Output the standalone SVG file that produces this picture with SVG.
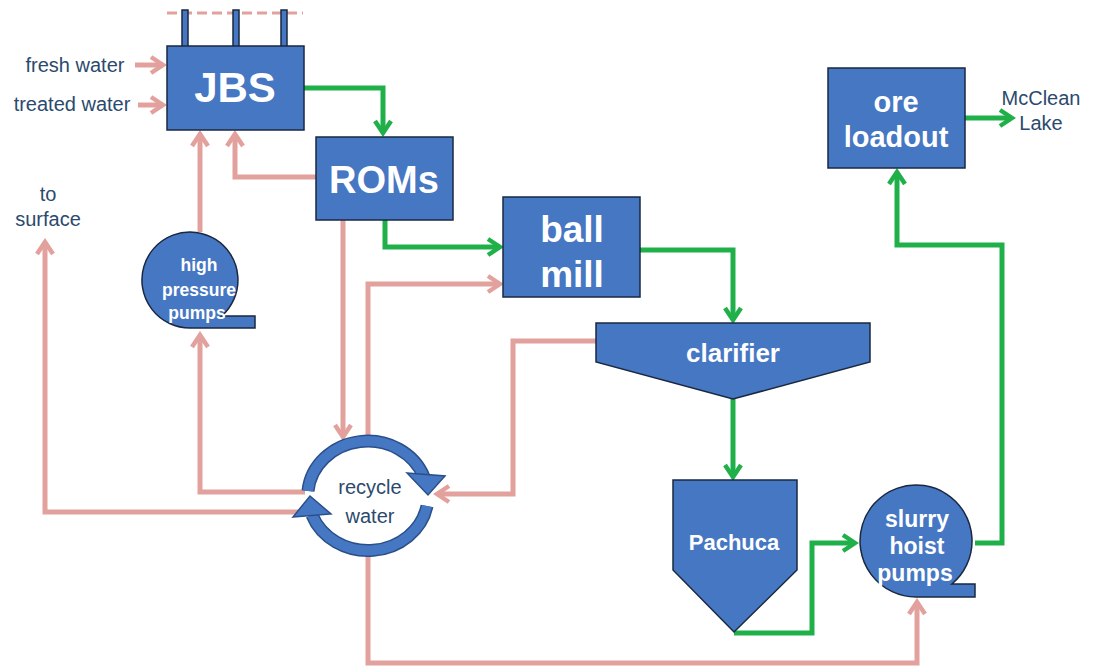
<svg xmlns="http://www.w3.org/2000/svg" width="1099" height="670" viewBox="0 0 1099 670">
<style>
.node{fill:#4677c3;stroke:#1a2840;stroke-width:1.5}
.nt{font-family:"Liberation Sans",Arial,sans-serif;font-weight:bold;fill:#ffffff;text-anchor:middle}
.lbl{font-family:"Liberation Sans",Arial,sans-serif;fill:#2b4a6e;text-anchor:middle;font-size:20px}
.pk{fill:none;stroke:#e2a19c;stroke-width:5;stroke-linejoin:miter;marker-end:url(#ap)}
.gr{fill:none;stroke:#20b04a;stroke-width:5;stroke-linejoin:miter;marker-end:url(#ag)}
</style>
<defs>
<marker id="ap" viewBox="0 0 20 20" markerWidth="20" markerHeight="20" refX="16" refY="10" orient="auto" markerUnits="userSpaceOnUse">
<path d="M4,2 L16,10 L4,18" fill="none" stroke="#e2a19c" stroke-width="4.5"/>
</marker>
<marker id="ag" viewBox="0 0 20 20" markerWidth="20" markerHeight="20" refX="16" refY="10" orient="auto" markerUnits="userSpaceOnUse">
<path d="M4,2 L16,10 L4,18" fill="none" stroke="#20b04a" stroke-width="4.5"/>
</marker>
</defs>
<rect width="1099" height="670" fill="#ffffff"/>

<g id="connectors">
<path class="pk" d="M135,65 L163,65"/>
<path class="pk" d="M138,105 L163,105"/>
<path class="pk" d="M316,177 L235,177 L235,134"/>
<path class="pk" d="M200,232 L200,134"/>
<path class="pk" d="M305,492 L200,492 L200,335"/>
<path class="pk" d="M305,512 L45,512 L45,242"/>
<path class="pk" d="M343,220 L343,437"/>
<path class="pk" d="M368,437 L368,284 L500,284"/>
<path class="pk" d="M596,341 L513,341 L513,494 L437,494"/>
<path class="pk" d="M368,555 L368,663 L917,663 L917,602"/>
<path class="gr" d="M304,88 L383,88 L383,133"/>
<path class="gr" d="M385,219 L385,247 L500,247"/>
<path class="gr" d="M640,250 L733,250 L733,320"/>
<path class="gr" d="M733,399 L733,477"/>
<path class="gr" d="M734,633 L812,633 L812,543 L855,543"/>
<path class="gr" d="M975,543 L1002,543 L1002,245 L897,245 L897,172"/>
<path class="gr" d="M965,118 L1012,118"/>
</g>

<g id="jbs">
<line x1="167" y1="13" x2="303" y2="13" stroke="#e2a19c" stroke-width="3" stroke-dasharray="10,5"/>
<rect class="node" x="182" y="10" width="6" height="40"/>
<rect class="node" x="233" y="10" width="6" height="40"/>
<rect class="node" x="281" y="10" width="6" height="40"/>
<rect class="node" x="167" y="46" width="137" height="84"/>
<text class="nt" x="235" y="102" font-size="42">JBS</text>
</g>
<g id="fresh-water"><text class="lbl" x="75" y="72" font-size="21">fresh water</text></g>
<g id="treated-water"><text class="lbl" x="72" y="111" font-size="21">treated water</text></g>
<g id="to-surface"><text class="lbl" x="48" y="201">to</text><text class="lbl" x="48" y="226">surface</text></g>

<g id="roms">
<rect class="node" x="316" y="137" width="137" height="83"/>
<text class="nt" x="384" y="193" font-size="38">ROMs</text>
</g>

<g id="ball-mill">
<rect class="node" x="503" y="197" width="137" height="100"/>
<text class="nt" x="572" y="242" font-size="37">ball</text>
<text class="nt" x="572" y="287" font-size="37">mill</text>
</g>

<g id="high-pressure-pumps">
<path class="node" d="M190,328 L255,328 L255,316 L221.7,316 A48,48 0 1 0 190,328 Z"/>
<text class="nt" x="199" y="271" font-size="17.5">high</text>
<text class="nt" x="199" y="296" font-size="17.5">pressure</text>
<text class="nt" x="197" y="319" font-size="17.5">pumps</text>
</g>

<g id="clarifier">
<polygon class="node" points="596,323 870,323 870,362 733,399 596,362"/>
<text class="nt" x="733" y="362" font-size="26">clarifier</text>
</g>

<g id="recycle-water">
<path d="M308,491 A60,55 0 0 1 424,477" fill="none" stroke="#2a4f8a" stroke-width="13"/>
<path d="M308,491 A60,55 0 0 1 424,477" fill="none" stroke="#4677c3" stroke-width="10"/>
<polygon points="407,473 445,476 428,495" fill="#4677c3" stroke="#2a4f8a" stroke-width="1.5"/>
<path d="M427,506 A60,55 0 0 1 312,515" fill="none" stroke="#2a4f8a" stroke-width="13"/>
<path d="M427,506 A60,55 0 0 1 312,515" fill="none" stroke="#4677c3" stroke-width="10"/>
<polygon points="293,517 331,514 310,496" fill="#4677c3" stroke="#2a4f8a" stroke-width="1.5"/>
<text class="lbl" x="370" y="494" font-size="22">recycle</text>
<text class="lbl" x="370" y="523" font-size="22">water</text>
</g>

<g id="pachuca">
<polygon class="node" points="673,480 797,480 797,570 734,632 673,570"/>
<text class="nt" x="734" y="550" font-size="22">Pachuca</text>
</g>

<g id="slurry-hoist-pumps">
<path class="node" d="M916,597 L975,597 L975,584 L951.9,584 A56,56 0 1 0 916,597 Z"/>
<text class="nt" x="917" y="527" font-size="23">slurry</text>
<text class="nt" x="917" y="554" font-size="23">hoist</text>
<text class="nt" x="915" y="581" font-size="23">pumps</text>
</g>

<g id="ore-loadout">
<rect class="node" x="828" y="68" width="137" height="100"/>
<text class="nt" x="896" y="112" font-size="29">ore</text>
<text class="nt" x="896" y="147" font-size="29">loadout</text>
</g>

<g id="mcclean-lake">
<text class="lbl" x="1041" y="105">McClean</text>
<text class="lbl" x="1041" y="130">Lake</text>
</g>
</svg>
